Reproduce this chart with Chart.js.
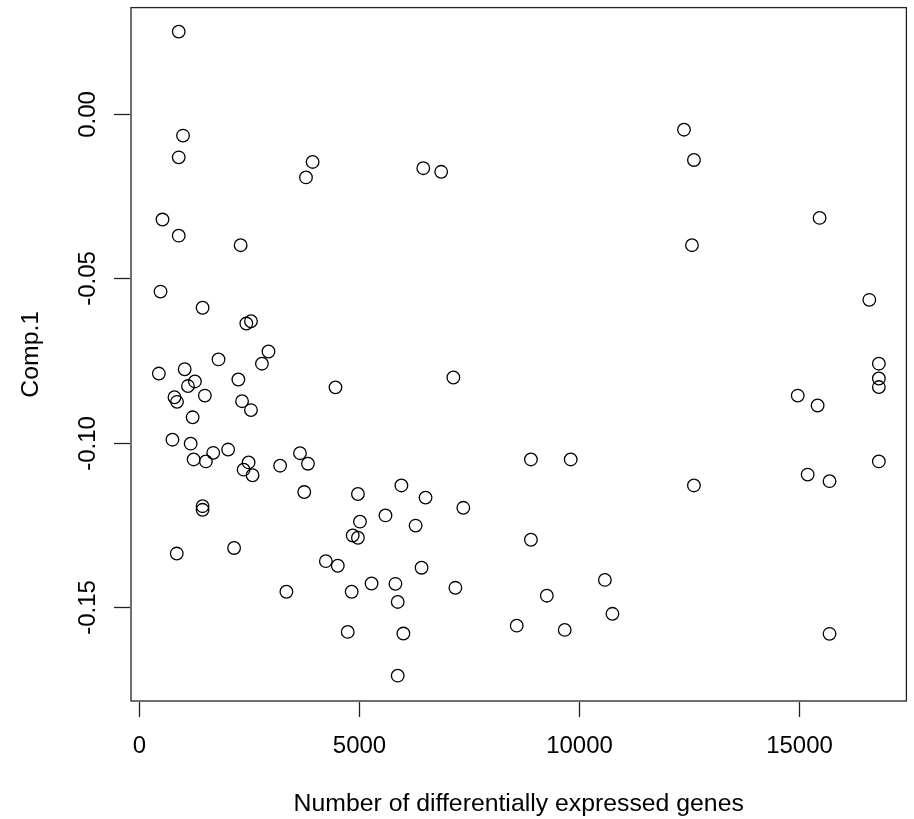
<!DOCTYPE html>
<html>
<head>
<meta charset="utf-8">
<script src="https://cdn.jsdelivr.net/npm/chart.js@4"></script>
<style>
  html, body { margin: 0; padding: 0; background: #fff; }
  canvas { display: block; }
</style>
</head>
<body>
<canvas id="chart" width="914" height="819"></canvas>
<script>
// values
const genes = [904, 1001, 904, 3947, 3796, 6462, 6869, 535, 904, 2311,
  12388, 12614, 12569, 15470, 490, 1446, 2440, 2546, 2944, 2795,
  1808, 452, 1039, 1272, 1114, 2259, 1498, 807, 865, 2343,
  2546, 4467, 1220, 7146, 761, 1175, 2027, 1688, 1243, 1521,
  2492, 2379, 2582, 3208, 3660, 3841, 3757, 4977, 5965, 6514,
  1446, 1446, 5603, 5023, 6288, 4858, 4977, 859, 2162, 4248,
  4519, 6423, 5287, 5829, 3351, 4835, 5881, 4745, 6010, 5881,
  16600, 16817, 16817, 16817, 14973, 15425, 8909, 9813, 16817, 15199,
  15696, 12614, 7372, 8909, 7192, 10590, 9270, 10762, 8586, 9677, 15696];
const comp1 = [0.0249, -0.0067, -0.0133, -0.0147, -0.0194, -0.0166, -0.0177, -0.0322, -0.0371, -0.0400,
  -0.0049, -0.0141, -0.0400, -0.0317, -0.0541, -0.0590, -0.0638, -0.0631, -0.0723, -0.0760,
  -0.0747, -0.0790, -0.0777, -0.0814, -0.0828, -0.0808, -0.0857, -0.0862, -0.0876, -0.0874,
  -0.0901, -0.0832, -0.0923, -0.0802, -0.0991, -0.1003, -0.1021, -0.1031, -0.1051, -0.1057,
  -0.1060, -0.1082, -0.1099, -0.1070, -0.1032, -0.1064, -0.1150, -0.1156, -0.1130, -0.1167,
  -0.1193, -0.1204, -0.1221, -0.1240, -0.1252, -0.1282, -0.1289, -0.1337, -0.1320, -0.1360,
  -0.1374, -0.1380, -0.1428, -0.1429, -0.1453, -0.1453, -0.1484, -0.1575, -0.1580, -0.1708,
  -0.0566, -0.0760, -0.0805, -0.0831, -0.0857, -0.0887, -0.1051, -0.1051, -0.1057, -0.1097,
  -0.1117, -0.1130, -0.1198, -0.1295, -0.1441, -0.1417, -0.1465, -0.1520, -0.1556, -0.1569, -0.1581];

const xTicks = [0, 5000, 10000, 15000];
const yTicks = [0, -0.05, -0.10, -0.15];
const yTickLabels = ["0.00", "-0.05", "-0.10", "-0.15"];
const xLimits = [-181, 17443];
const yLimits = [-0.1785, 0.0322];
const xTitle = "Number of differentially expressed genes";
const yTitle = "Comp.1";

const FONT = '"Liberation Sans", Arial, Helvetica, sans-serif';

// R-style box, ticks and labels
const baseGraphics = {
    id: "baseGraphics",
    afterDraw(chart) {
        const ctx = chart.ctx;
        const { left, right, top, bottom } = chart.chartArea;
        const xs = chart.scales.x;
        const ys = chart.scales.y;

        ctx.save();
        ctx.strokeStyle = "#222";
        ctx.lineWidth = 1.3;
        ctx.strokeRect(left, top, right - left, bottom - top);

        ctx.fillStyle = "#000";
        ctx.font = "24px " + FONT;
        ctx.textAlign = "center";
        ctx.textBaseline = "middle";

        xTicks.forEach(v => {
            const px = Math.round(xs.getPixelForValue(v)) + 0.5;
            ctx.beginPath();
            ctx.moveTo(px, bottom + 1);
            ctx.lineTo(px, bottom + 16);
            ctx.stroke();
            ctx.fillText(String(v), px, 746);
        });

        yTicks.forEach((v, i) => {
            const py = Math.round(ys.getPixelForValue(v)) + 0.5;
            ctx.beginPath();
            ctx.moveTo(left - 1, py);
            ctx.lineTo(left - 17, py);
            ctx.stroke();
            ctx.save();
            ctx.translate(88, py);
            ctx.rotate(-Math.PI / 2);
            ctx.fillText(yTickLabels[i], 0, 0);
            ctx.restore();
        });

        ctx.font = "24.8px " + FONT;
        ctx.fillText(xTitle, (left + right) / 2, 804);
        ctx.save();
        ctx.translate(31, (top + bottom) / 2);
        ctx.rotate(-Math.PI / 2);
        ctx.fillText(yTitle, 0, 0);
        ctx.restore();
        ctx.restore();
    },
};

new Chart(document.getElementById("chart").getContext("2d"), {
    type: "scatter",
    data: {
        datasets: [{
            data: genes.map((g, i) => ({ x: g, y: comp1[i] })),
            pointStyle: "circle",
            pointRadius: 6.3,
            pointBorderWidth: 1.3,
            pointBorderColor: "#000",
            pointBackgroundColor: "rgba(0,0,0,0)",
        }],
    },
    options: {
        responsive: false,
        animation: false,
        layout: { padding: { left: 131, top: 7, right: 3, bottom: 118 } },
        scales: {
            x: { type: "linear", min: xLimits[0], max: xLimits[1], display: false },
            y: { type: "linear", min: yLimits[0], max: yLimits[1], display: false },
        },
        plugins: {
            legend: { display: false },
            tooltip: { enabled: false },
        },
    },
    plugins: [baseGraphics],
});
</script>
</body>
</html>
